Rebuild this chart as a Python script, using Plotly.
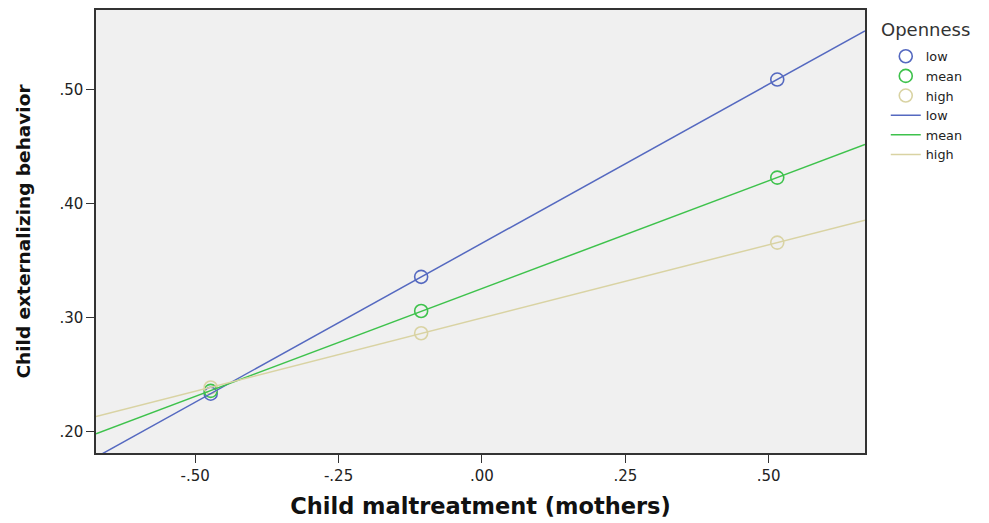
import numpy as np
import plotly.graph_objects as go

# Simple slopes: child externalizing behavior vs. maternal maltreatment,
# at three levels of the Openness moderator
maltreatment = [-0.473, -0.106, 0.515]
levels = ["low", "mean", "high"]
externalizing_low = [0.233, 0.3355, 0.5085]
externalizing_mean = [0.2355, 0.3055, 0.4225]
externalizing_high = [0.2385, 0.2860, 0.3655]

x_ticks = [-0.50, -0.25, 0.00, 0.25, 0.50]
x_tick_labels = ["-.50", "-.25", ".00", ".25", ".50"]
y_ticks = [0.20, 0.30, 0.40, 0.50]
y_tick_labels = [".20", ".30", ".40", ".50"]

x_range = [-0.673, 0.668]
y_range = [0.181, 0.5695]

colors = {"low": "#5569C0", "mean": "#3EC24C", "high": "#D9D3A3"}
series = {"low": externalizing_low, "mean": externalizing_mean, "high": externalizing_high}

FONT = "DejaVu Sans, Liberation Sans, Arial, sans-serif"

fig = go.Figure()

# Observed subgroup means as open circles
for lvl in levels:
    fig.add_trace(go.Scatter(
        x=maltreatment, y=series[lvl], mode="markers", name=lvl,
        marker=dict(symbol="circle-open", size=13, color=colors[lvl],
                    line=dict(width=1.6, color=colors[lvl])),
    ))

# Linear fit lines spanning the full x axis
xs = np.array(x_range)
for lvl in levels:
    slope, intercept = np.polyfit(maltreatment, series[lvl], 1)
    fig.add_trace(go.Scatter(
        x=xs, y=slope * xs + intercept, mode="lines", name=lvl,
        line=dict(color=colors[lvl], width=1.5),
    ))

axis_common = dict(
    showgrid=False, zeroline=False, showline=True, mirror=True,
    linecolor="#333333", linewidth=1.5, ticks="outside", ticklen=8,
    tickcolor="#333333", tickwidth=1.2,
    tickfont=dict(family=FONT, size=15, color="#222222"),
)

fig.update_layout(
    width=989, height=523,
    margin=dict(l=96, r=124, t=8, b=68),
    paper_bgcolor="white", plot_bgcolor="#F0F0F0",
    font=dict(family=FONT, color="#222222"),
    xaxis=dict(axis_common, range=x_range, tickvals=x_ticks, ticktext=x_tick_labels,
               title=dict(text="<b>Child maltreatment (mothers)</b>",
                          font=dict(size=22.5, color="#111111"), standoff=14)),
    yaxis=dict(axis_common, range=y_range, tickvals=y_ticks, ticktext=y_tick_labels,
               title=dict(text="<b>Child externalizing behavior</b>",
                          font=dict(size=18.5, color="#111111"), standoff=24)),
    legend=dict(
        x=1.027, xanchor="left", y=0.929, yanchor="top",
        font=dict(size=12.8, color="#222222"),
        bgcolor="rgba(0,0,0,0)", tracegroupgap=0, itemwidth=30,
    ),
    annotations=[dict(
        text="Openness", xref="paper", yref="paper", x=1.018, y=0.956,
        xanchor="left", yanchor="middle", showarrow=False,
        font=dict(size=18, color="#333333"),
    )],
)

fig.write_html("out.html")
